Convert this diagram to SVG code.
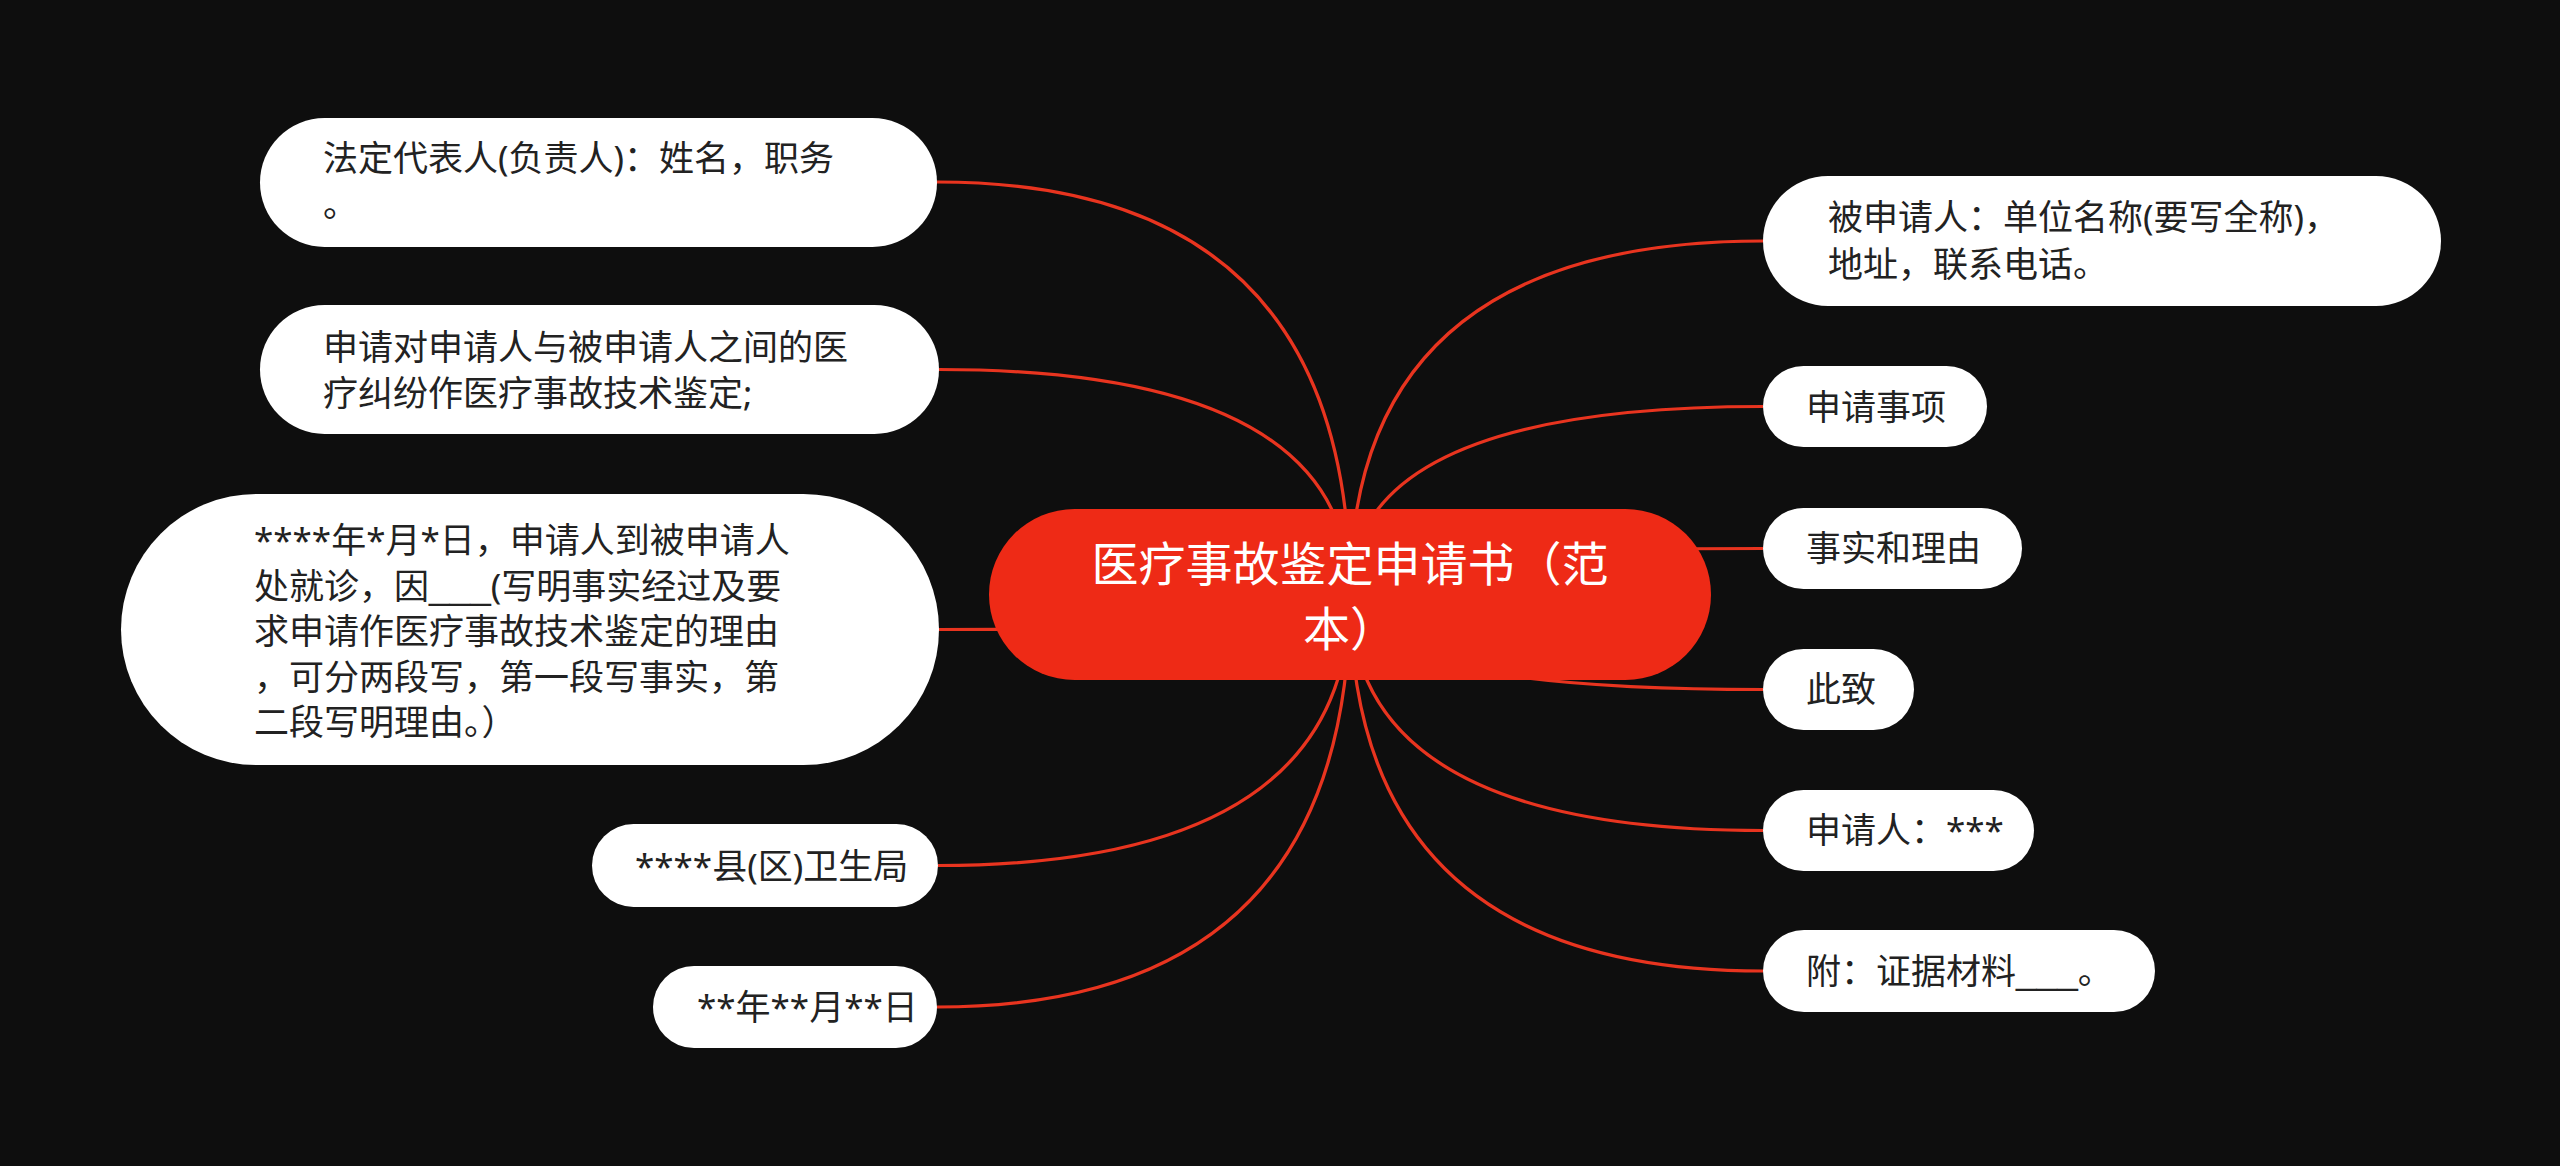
<svg xmlns="http://www.w3.org/2000/svg" width="2560" height="1166" viewBox="0 0 2560 1166">
<defs>
<style>
.bg{fill:#0e0e0e}
.link{fill:none;stroke:#e8341f;stroke-width:3.2}
.box{fill:#ffffff}
.t{font-family:"Noto Sans","Noto Sans CJK SC",sans-serif;font-size:35px;fill:#222222}
.u{font-family:"Liberation Sans","Noto Sans CJK SC",sans-serif;font-size:37px}
.root{fill:#ee2a16}
.rt{font-family:"Noto Sans","Noto Sans CJK SC",sans-serif;font-size:47px;fill:#ffffff;text-anchor:middle}
</style>
</defs>
<rect class="bg" x="0" y="0" width="2560" height="1166"/>
<g id="connectors">
<path class="link" d="M1350,594 Q1350,182 937,182"/>
<path class="link" d="M1350,594 Q1350,369.5 939,369.5"/>
<path class="link" d="M1350,594 Q1350,629.5 939,629.5"/>
<path class="link" d="M1350,594 Q1350,865.5 938,865.5"/>
<path class="link" d="M1350,594 Q1350,1007 937,1007"/>
<path class="link" d="M1350,594 Q1350,241 1763,241"/>
<path class="link" d="M1350,594 Q1350,406.5 1763,406.5"/>
<path class="link" d="M1350,594 Q1350,548.5 1763,548.5"/>
<path class="link" d="M1350,594 Q1350,689.5 1763,689.5"/>
<path class="link" d="M1350,594 Q1350,830.5 1763,830.5"/>
<path class="link" d="M1350,594 Q1350,971 1763,971"/>
</g>
<g id="root">
<rect class="root" x="989" y="509" width="722" height="171" rx="85.5"/>
<text class="rt" x="1350" y="581">医疗事故鉴定申请书（范</text>
<text class="rt" x="1350" y="646">本）</text>
</g>
<g id="n1">
<rect class="box" x="260" y="118" width="677" height="129" rx="64.5"/>
<text class="t" x="323" y="171">法定代表人(负责人)：姓名，职务</text>
<text class="t" x="323" y="217">。</text>
</g>
<g id="n2">
<rect class="box" x="260" y="305" width="679" height="129" rx="64.5"/>
<text class="t" x="323" y="360">申请对申请人与被申请人之间的医</text>
<text class="t" x="323" y="406">疗纠纷作医疗事故技术鉴定;</text>
</g>
<g id="n3">
<rect class="box" x="121" y="494" width="818" height="271" rx="135.5"/>
<text class="t" x="254" y="553">****年*月*日，申请人到被申请人</text>
<text class="t" x="254" y="598.5">处就诊，因<tspan class="u">___</tspan>(写明事实经过及要</text>
<text class="t" x="254" y="644">求申请作医疗事故技术鉴定的理由</text>
<text class="t" x="254" y="689.5">，可分两段写，第一段写事实，第</text>
<text class="t" x="254" y="735">二段写明理由。）</text>
</g>
<g id="n4">
<rect class="box" x="592" y="824" width="346" height="83" rx="41.5"/>
<text class="t" x="635" y="879">****县(区)卫生局</text>
</g>
<g id="n5">
<rect class="box" x="653" y="966" width="284" height="82" rx="41"/>
<text class="t" x="697" y="1020">**年**月**日</text>
</g>
<g id="r1">
<rect class="box" x="1763" y="176" width="678" height="130" rx="65"/>
<text class="t" x="1828" y="230">被申请人：单位名称(要写全称)，</text>
<text class="t" x="1828" y="277">地址，联系电话。</text>
</g>
<g id="r2">
<rect class="box" x="1763" y="366" width="224" height="81" rx="40.5"/>
<text class="t" x="1806" y="420">申请事项</text>
</g>
<g id="r3">
<rect class="box" x="1763" y="508" width="259" height="81" rx="40.5"/>
<text class="t" x="1806" y="561">事实和理由</text>
</g>
<g id="r4">
<rect class="box" x="1763" y="649" width="151" height="81" rx="40.5"/>
<text class="t" x="1806" y="702">此致</text>
</g>
<g id="r5">
<rect class="box" x="1763" y="790" width="271" height="81" rx="40.5"/>
<text class="t" x="1806" y="843">申请人：***</text>
</g>
<g id="r6">
<rect class="box" x="1763" y="930" width="392" height="82" rx="41"/>
<text class="t" x="1806" y="984">附：证据材料<tspan class="u">___</tspan>。</text>
</g>
</svg>
